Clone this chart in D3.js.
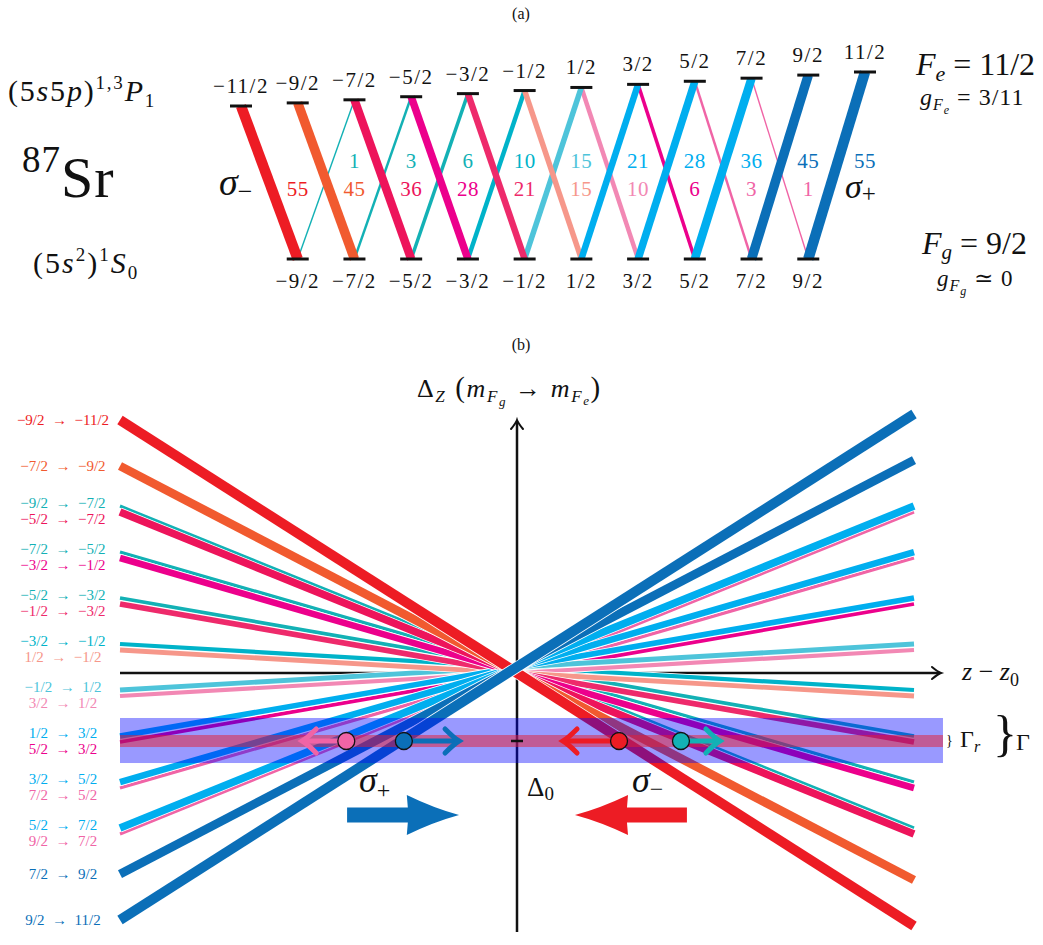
<!DOCTYPE html>
<html><head><meta charset="utf-8">
<script src="https://cdn.jsdelivr.net/npm/d3@7"></script>
<style>body{margin:0;background:#fff}svg{display:block}text{font-family:"Liberation Serif","DejaVu Serif",serif;fill:#111}</style>
</head><body><svg id="c" width="1043" height="945"></svg>
<script>
// ---------------- DATA ----------------
const groundM   = [-4.5,-3.5,-2.5,-1.5,-0.5,0.5,1.5,2.5,3.5,4.5];
const excitedM  = [-5.5,-4.5,-3.5,-2.5,-1.5,-0.5,0.5,1.5,2.5,3.5,4.5,5.5];
const excitedLabels = ["−11/2","−9/2","−7/2","−5/2","−3/2","−1/2","1/2","3/2","5/2","7/2","9/2","11/2"];
const groundLabels  = ["−9/2","−7/2","−5/2","−3/2","−1/2","1/2","3/2","5/2","7/2","9/2"];
// relative strengths (Clebsch-Gordan squared, x 55) indexed by ground sublevel
const sigmaMinusStrength = [55,45,36,28,21,15,10,6,3,1];   // m_g -> m_g - 1
const sigmaPlusStrength  = [1,3,6,10,15,21,28,36,45,55];   // m_g -> m_g + 1
const sigmaMinusColor = ["#ed1c24","#f15a2f","#ed145b","#ec008c","#ee2a6b","#f6978a","#f288b4","#ec008c","#f064a6","#f064a6"];
const sigmaPlusColor  = ["#13b1b5","#13b1b5","#13b1b5","#00b3c9","#4ec4da","#00aeef","#00aeef","#00aeef","#0b6fb8","#0b6fb8"];
const sigmaMinusLabelB = ["−9/2 → −11/2","−7/2 → −9/2","−5/2 → −7/2","−3/2 → −1/2","−1/2 → −3/2","1/2 → −1/2","3/2 → 1/2","5/2 → 3/2","7/2 → 5/2","9/2 → 7/2"];
const sigmaPlusLabelB  = ["−9/2 → −7/2","−7/2 → −5/2","−5/2 → −3/2","−3/2 → −1/2","−1/2 → 1/2","1/2 → 3/2","3/2 → 5/2","5/2 → 7/2","7/2 → 9/2","9/2 → 11/2"];
const familyShift = {plus: 0.13, minus: 0};            // display offset of the two fans (Δ units)
// atoms on the resonance line Δ0 (z units) and their push arrows
const atomZ         = [-0.43, -0.285, 0.257, 0.413];
const atomArrowTipZ = [-0.541, -0.146, 0.116, 0.511];
const atomColor     = ["#f064a6","#0b6fb8","#ed1c24","#13b1b5"];
const detuningDelta0 = -1.478;
const bandGamma  = [-0.978, -1.957];
const bandGammaR = [-1.348, -1.609];
const bandZ = [-1, 1.073];
const beamPlusZ  = [-0.428, -0.275, -0.146];   // shaft start, head base, tip
const beamMinusZ = [0.428, 0.277, 0.146];
const beamDelta = -3.087;

// ---------------- helpers ----------------
const svg = d3.select("#c");
function mtext(x, y, parts, base) {
  const t = svg.append("text").attr("x", x).attr("y", y)
    .attr("font-size", base.size).attr("fill", base.color || "#111");
  if (base.anchor) t.attr("text-anchor", base.anchor);
  if (base.ls) t.attr("letter-spacing", base.ls);
  let prev = 0;
  parts.forEach(p => {
    const sh = p.shift || 0;
    const ts = t.append("tspan").text(p.t).attr("dy", sh - prev);
    prev = sh;
    if (p.it) ts.attr("font-style", "italic");
    if (p.size) ts.attr("font-size", p.size);
    if (p.color) ts.attr("fill", p.color);
  });
  return t;
}

const transitions = [];
groundM.forEach((mg, i) => {
  transitions.push({mg, me: mg - 1, s: sigmaMinusStrength[i], color: sigmaMinusColor[i], label: sigmaMinusLabelB[i], pol: "minus"});
  transitions.push({mg, me: mg + 1, s: sigmaPlusStrength[i],  color: sigmaPlusColor[i],  label: sigmaPlusLabelB[i],  pol: "plus"});
});
const byStrength = transitions.slice().sort((a, b) => a.s - b.s);

// ---------------- PANEL (a) ----------------
svg.append("text").attr("x", 521).attr("y", 19).attr("text-anchor", "middle").attr("font-size", 16).text("(a)");
const xA = d3.scaleLinear().domain([-5.5, 5.5]).range([241, 865]);
const yExc = d3.scaleLinear().domain([-5.5, 5.5]).range([106, 72]);
const yGround = 259;
const wA = d3.scaleSqrt().domain([0, 55]).range([0, 10.5]);

svg.append("g").selectAll("line").data(byStrength).join("line")
  .attr("x1", d => xA(d.mg)).attr("y1", yGround)
  .attr("x2", d => xA(d.me)).attr("y2", d => yExc(d.me))
  .attr("stroke", d => d.color).attr("stroke-width", d => wA(d.s));

svg.append("g").selectAll("line").data(excitedM).join("line")
  .attr("x1", m => xA(m) - 11).attr("x2", m => xA(m) + 11)
  .attr("y1", m => yExc(m)).attr("y2", m => yExc(m))
  .attr("stroke", "#111").attr("stroke-width", 3);
svg.append("g").selectAll("line").data(groundM).join("line")
  .attr("x1", m => xA(m) - 11).attr("x2", m => xA(m) + 11)
  .attr("y1", yGround).attr("y2", yGround)
  .attr("stroke", "#111").attr("stroke-width", 3);

svg.append("g").selectAll("text").data(excitedM).join("text")
  .attr("x", m => xA(m)).attr("y", m => yExc(m) - 13).attr("text-anchor", "middle")
  .attr("letter-spacing", 1.5).attr("font-size", 21).text((m, i) => excitedLabels[i]);
svg.append("g").selectAll("text").data(groundM).join("text")
  .attr("x", m => xA(m)).attr("y", yGround + 29).attr("text-anchor", "middle")
  .attr("letter-spacing", 1.5).attr("font-size", 21).text((m, i) => groundLabels[i]);

// strength numbers
svg.append("g").selectAll("text").data(transitions).join("text")
  .attr("x", d => d.pol === "plus" ? xA(d.me) : xA(d.mg))
  .attr("y", d => d.pol === "plus" ? 168 : 196)
  .attr("text-anchor", "middle").attr("font-size", 21).attr("letter-spacing", 0.5)
  .style("fill", d => d.color).text(d => d.s);

mtext(219, 195, [{t: "σ", it: true}, {t: "−", size: 26, shift: 5}], {size: 38, color: "#ed1c24"});
mtext(845, 198, [{t: "σ", it: true}, {t: "+", size: 25, shift: 4}], {size: 34, color: "#1a73bb"});

mtext(8, 101, [{t: "(5"}, {t: "s", it: true}, {t: "5"}, {t: "p", it: true}, {t: ")"},
  {t: "1,3", size: 19, shift: -12}, {t: "P", it: true, shift: 0}, {t: "1", size: 19, shift: 6}], {size: 30, ls: 1.8});
mtext(22, 197, [{t: "87", size: 37, shift: -25}, {t: "Sr", shift: 0}], {size: 58, ls: 1});
mtext(33, 273, [{t: "(5"}, {t: "s", it: true}, {t: "2", size: 19, shift: -12}, {t: ")", shift: 0},
  {t: "1", size: 19, shift: -12}, {t: "S", it: true, shift: 0}, {t: "0", size: 19, shift: 6}], {size: 30, ls: 2});

mtext(916, 75, [{t: "F", it: true}, {t: "e", it: true, size: 22, shift: 6}, {t: " = 11/2", shift: 0}], {size: 32});
mtext(920, 105, [{t: "g", it: true}, {t: "F", it: true, size: 16, shift: 5}, {t: "e", it: true, size: 12, shift: 9},
  {t: " = 3/11", shift: 0}], {size: 24, ls: 1});
mtext(922, 254, [{t: "F", it: true}, {t: "g", it: true, size: 21, shift: 5}, {t: " = 9/2", shift: 0}], {size: 32});
mtext(937, 286, [{t: "g", it: true}, {t: "F", it: true, size: 16, shift: 5}, {t: "g", it: true, size: 12, shift: 9},
  {t: " ≃ 0", shift: 0}], {size: 23, ls: 1});

// ---------------- PANEL (b) ----------------
svg.append("text").attr("x", 521).attr("y", 350).attr("text-anchor", "middle").attr("font-size", 16).text("(b)");
const zB = d3.scaleLinear().domain([-1, 1]).range([120, 914]);
const dB = d3.scaleLinear().domain([-6, 6]).range([673 + 276, 673 - 276]);
const wB = d3.scaleLinear().domain([0, 55]).range([2.9, 10]);
const x0 = zB(0), y0 = dB(0);

// axes
const axes = svg.append("g").attr("stroke", "#111").attr("stroke-width", 2.5).attr("fill", "none");
axes.append("line").attr("x1", zB(-1)).attr("x2", 940).attr("y1", y0).attr("y2", y0);
axes.append("line").attr("x1", x0).attr("x2", x0).attr("y1", 932).attr("y2", 421);
axes.append("path").attr("stroke-width", 2).attr("stroke-linecap", "round")
  .attr("d", `M${941 - 9},${y0 - 6} Q${941 - 3},${y0 - 1} ${941},${y0} Q${941 - 3},${y0 + 1} ${941 - 9},${y0 + 6}`);
axes.append("path").attr("stroke-width", 2).attr("stroke-linecap", "round")
  .attr("d", `M${x0 - 6},${420 + 9} Q${x0 - 1},${420 + 3} ${x0},${420} Q${x0 + 1},${420 + 3} ${x0 + 6},${420 + 9}`);

const lineGen = d3.line().x(p => zB(p.z)).y(p => dB(p.d));
const pts = t => [-1, 1].map(z => ({z, d: t.me * z + familyShift[t.pol]}));
const gl = svg.append("g").attr("fill", "none");
byStrength.forEach(t => {
  gl.append("path").attr("d", lineGen(pts(t))).attr("stroke", "#fff").attr("stroke-width", wB(t.s) + 1.6);
  gl.append("path").attr("d", lineGen(pts(t))).attr("stroke", t.color).attr("stroke-width", wB(t.s));
});

// band Γ and Γr
svg.append("rect").attr("x", zB(bandZ[0])).attr("width", zB(bandZ[1]) - zB(bandZ[0]))
  .attr("y", dB(bandGamma[0])).attr("height", dB(bandGamma[1]) - dB(bandGamma[0]))
  .attr("fill", "rgb(0,0,255)").attr("fill-opacity", 0.4);
svg.append("rect").attr("x", zB(bandZ[0])).attr("width", zB(bandZ[1]) - zB(bandZ[0]))
  .attr("y", dB(bandGammaR[0])).attr("height", dB(bandGammaR[1]) - dB(bandGammaR[0]))
  .attr("fill", "rgb(232,30,48)").attr("fill-opacity", 0.5);

// Δ0 tick
const yd = dB(detuningDelta0);
svg.append("line").attr("x1", x0 - 6).attr("x2", x0 + 6).attr("y1", yd).attr("y2", yd)
  .attr("stroke", "#111").attr("stroke-width", 2.5);

// atoms with push arrows
atomZ.forEach((z, i) => {
  const xs = zB(z), xt = zB(atomArrowTipZ[i]), dir = Math.sign(xt - xs);
  const g = svg.append("g").attr("stroke", atomColor[i]).attr("fill", "none")
    .attr("stroke-width", 5).attr("stroke-linecap", "round");
  g.append("line").attr("x1", xs).attr("x2", xt - dir * 2).attr("y1", yd).attr("y2", yd);
  g.append("path").attr("d",
    `M${xt - dir * 14},${yd - 12} Q${xt - dir * 5},${yd - 3} ${xt},${yd} Q${xt - dir * 5},${yd + 3} ${xt - dir * 14},${yd + 12}`);
  svg.append("circle").attr("cx", xs).attr("cy", yd).attr("r", 8.5)
    .attr("fill", atomColor[i]).attr("stroke", "#111").attr("stroke-width", 1.3);
});

// laser beams
function beam(zz, color) {
  const xs = zB(zz[0]), xb = zB(zz[1]), xt = zB(zz[2]), yc = dB(beamDelta);
  const dl = xt - xb;
  svg.append("path").attr("fill", color).attr("d",
    `M${xs},${yc - 7.5} L${xb},${yc - 7.5} L${xb - dl * 0.02},${yc - 20} Q${xb + dl * 0.5},${yc - 7} ${xt},${yc}` +
    ` Q${xb + dl * 0.5},${yc + 7} ${xb - dl * 0.02},${yc + 20} L${xb},${yc + 7.5} L${xs},${yc + 7.5} Z`);
}
beam(beamPlusZ, "#0b6fb8");
beam(beamMinusZ, "#ed1c24");

mtext(359, 792, [{t: "σ", it: true}, {t: "+", size: 24, shift: 6}], {size: 36, color: "#1a73bb"});
mtext(632, 792, [{t: "σ", it: true}, {t: "−", size: 24, shift: 5}], {size: 36, color: "#ed1c24"});
mtext(527, 796, [{t: "Δ"}, {t: "0", size: 19, shift: 4}], {size: 27});

// transition labels at left end
const labelG = svg.append("g").attr("font-size", 15).attr("text-anchor", "middle");
d3.groups(transitions, t => t.me).forEach(([me, list]) => {
  const ys = list.map(t => dB(-me + familyShift[t.pol]));
  const mean = d3.mean(ys);
  list.forEach(t => {
    let y = mean;
    if (list.length === 2) y = mean + 2 + (t.pol === "plus" ? -8 : 8);
    labelG.append("text").attr("x", 63).attr("y", y).attr("dy", "0.35em")
      .style("fill", t.color).text(t.label.replace(" → ", "\u2002→\u2002"));
  });
});

// axis labels
mtext(417, 397, [{t: "Δ"}, {t: "Z", it: true, size: 17, shift: 5}, {t: " (", size: 29, shift: 0},
  {t: "m", it: true}, {t: "F", it: true, size: 17, shift: 5}, {t: "g", it: true, size: 13, shift: 9},
  {t: " → ", shift: 0}, {t: "m", it: true}, {t: "F", it: true, size: 17, shift: 5}, {t: "e", it: true, size: 13, shift: 8},
  {t: ")", size: 29, shift: 0}], {size: 26, ls: 1.6});
mtext(962, 680, [{t: "z", it: true}, {t: " − "}, {t: "z", it: true}, {t: "0", size: 18, shift: 6}], {size: 26});

mtext(946, 745, [{t: "}"}], {size: 14});
mtext(960, 747, [{t: "Γ"}, {t: "r", it: true, size: 16, shift: 5}], {size: 24});
mtext(993, 750, [{t: "}"}], {size: 50});
mtext(1016, 750, [{t: "Γ"}], {size: 24});
</script></body></html>
